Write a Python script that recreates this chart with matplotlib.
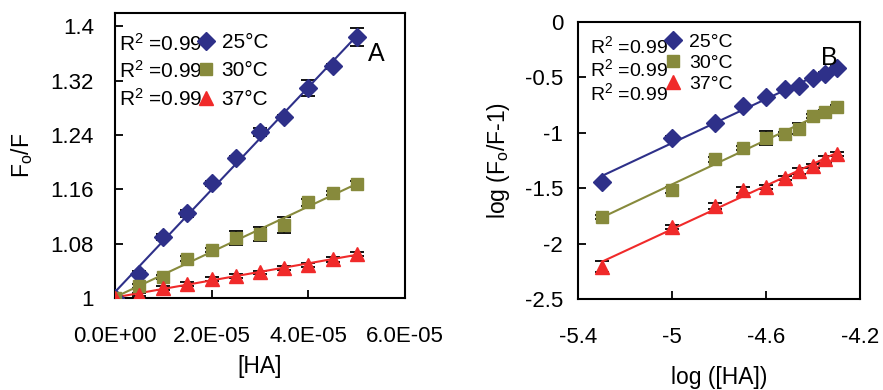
import matplotlib.pyplot as plt
import numpy as np

plt.rcParams['font.family'] = ['Liberation Sans', 'DejaVu Sans']
plt.rcParams['mathtext.default'] = 'regular'

BLUE = '#2e3089'
OLIVE = '#878a3c'
RED = '#f02a2a'

# panel A: Stern-Volmer
ha = [0, 5e-6, 1e-5, 1.5e-5, 2e-5, 2.5e-5, 3e-5, 3.5e-5, 4e-5, 4.5e-5, 5e-5]
a_25 = [1.0, 1.036, 1.090, 1.125, 1.169, 1.206, 1.244, 1.267, 1.309, 1.341, 1.384]
a_25_err = [0.002, 0.003, 0.004, 0.005, 0.004, 0.003, 0.006, 0.003, 0.012, 0.004, 0.013]
a_30 = [1.0, 1.018, 1.031, 1.058, 1.071, 1.088, 1.094, 1.107, 1.141, 1.155, 1.168]
a_30_err = [0.002, 0.003, 0.003, 0.004, 0.003, 0.010, 0.010, 0.012, 0.005, 0.003, 0.004]
a_37 = [1.0, 1.005, 1.015, 1.021, 1.028, 1.032, 1.038, 1.044, 1.049, 1.057, 1.065]
a_37_err = [0.002, 0.002, 0.003, 0.003, 0.003, 0.003, 0.002, 0.003, 0.003, 0.004, 0.003]

# panel B: double log
log_ha = [-5.30, -5.00, -4.82, -4.70, -4.60, -4.52, -4.46, -4.40, -4.35, -4.30]
b_25 = [-1.442, -1.043, -0.910, -0.760, -0.676, -0.607, -0.577, -0.505, -0.466, -0.412]
b_25_err = [0.01, 0.01, 0.01, 0.01, 0.01, 0.01, 0.01, 0.01, 0.01, 0.01]
b_30 = [-1.758, -1.517, -1.241, -1.136, -1.046, -1.013, -0.962, -0.847, -0.811, -0.772]
b_30_err = [0.02, 0.03, 0.02, 0.02, 0.06, 0.02, 0.05, 0.02, 0.02, 0.02]
b_37 = [-2.209, -1.848, -1.659, -1.517, -1.487, -1.406, -1.346, -1.298, -1.241, -1.193]
b_37_err = [0.05, 0.02, 0.03, 0.03, 0.02, 0.02, 0.03, 0.02, 0.03, 0.02]

temps = ['25°C', '30°C', '37°C']
r2_labels = ['R$^2$ =0.99', 'R$^2$ =0.99', 'R$^2$ =0.99']

fig = plt.figure(figsize=(8.83, 3.9), dpi=100)
axA = fig.add_axes([0.130, 0.236, 0.329, 0.731])
axB = fig.add_axes([0.655, 0.233, 0.319, 0.711])

styles = [(BLUE, 'D', 9.5), (OLIVE, 's', 9), (RED, '^', 10)]


def draw(ax, x, series, errs):
    handles = []
    x = np.array(x)
    for (c, m, ms), y, e in zip(styles, series, errs):
        y = np.array(y)
        ax.errorbar(x, y, yerr=e, fmt='none', ecolor='black', elinewidth=1.3,
                    capsize=5, capthick=1.3, zorder=2)
        h, = ax.plot(x, y, linestyle='none', marker=m, color=c, markersize=ms, zorder=3)
        handles.append(h)
        k, b = np.polyfit(x, y, 1)
        ax.plot([x[0], x[-1]], [k * x[0] + b, k * x[-1] + b], color=c, lw=1.5, zorder=2)
    return handles


hA = draw(axA, ha, [a_25, a_30, a_37], [a_25_err, a_30_err, a_37_err])
hB = draw(axB, log_ha, [b_25, b_30, b_37], [b_25_err, b_30_err, b_37_err])

# axes A
axA.set_xlim(0, 6e-5)
axA.set_ylim(1, 1.42)
axA.set_xticks([0, 2e-5, 4e-5, 6e-5])
axA.set_xticklabels(['0.0E+00', '2.0E-05', '4.0E-05', '6.0E-05'])
axA.set_yticks([1, 1.08, 1.16, 1.24, 1.32, 1.4])
axA.set_yticklabels(['1', '1.08', '1.16', '1.24', '1.32', '1.4'])
axA.tick_params(axis='both', direction='in', length=6, width=1.3, labelsize=16)
axA.tick_params(axis='x', pad=20)
axA.tick_params(axis='y', pad=15)
axA.set_xlabel('[HA]', fontsize=16.5, labelpad=6)
axA.set_ylabel('F$_o$/F', fontsize=16.5, labelpad=11)
axA.text(0.872, 0.863, 'A', transform=axA.transAxes, fontsize=18, ha='left',
         va='center_baseline')

# axes B
axB.set_xlim(-5.4, -4.2)
axB.set_ylim(-2.5, 0)
axB.set_xticks([-5.4, -5.0, -4.6, -4.2])
axB.set_xticklabels(['-5.4', '-5', '-4.6', '-4.2'])
axB.set_yticks([-2.5, -2, -1.5, -1, -0.5, 0])
axB.set_yticklabels(['-2.5', '-2', '-1.5', '-1', '-0.5', '0'])
axB.tick_params(axis='both', direction='in', length=6, width=1.3, labelsize=16)
axB.tick_params(axis='x', pad=20)
axB.tick_params(axis='y', pad=11)
axB.set_xlabel('log ([HA])', fontsize=16.5, labelpad=13)
axB.set_ylabel('log (F$_o$/F-1)', fontsize=16.5, labelpad=9)
axB.text(0.86, 0.88, 'B', transform=axB.transAxes, fontsize=18, ha='left',
         va='center_baseline')

for ax in (axA, axB):
    for s in ax.spines.values():
        s.set_linewidth(1.5)

# legends with R^2 text
axA.legend(hA, temps, loc='upper left', bbox_to_anchor=(0.285, 0.93), frameon=False,
           fontsize=15, handlelength=0.8, handletextpad=0.35, labelspacing=0.46,
           borderaxespad=0, borderpad=0)
for i, t in enumerate(r2_labels):
    axA.text(0.015, 0.893 - i * 0.097, t, transform=axA.transAxes, fontsize=15,
             ha='left', va='center')

axB.legend(hB, temps, loc='upper left', bbox_to_anchor=(0.31, 0.96), frameon=False,
           fontsize=14, handlelength=0.8, handletextpad=0.4, labelspacing=0.18,
           borderaxespad=0, borderpad=0)
for i, t in enumerate(r2_labels):
    axB.text(0.04, 0.913 - i * 0.085, t, transform=axB.transAxes, fontsize=14,
             ha='left', va='center')

fig.savefig('out.png', dpi=100)
